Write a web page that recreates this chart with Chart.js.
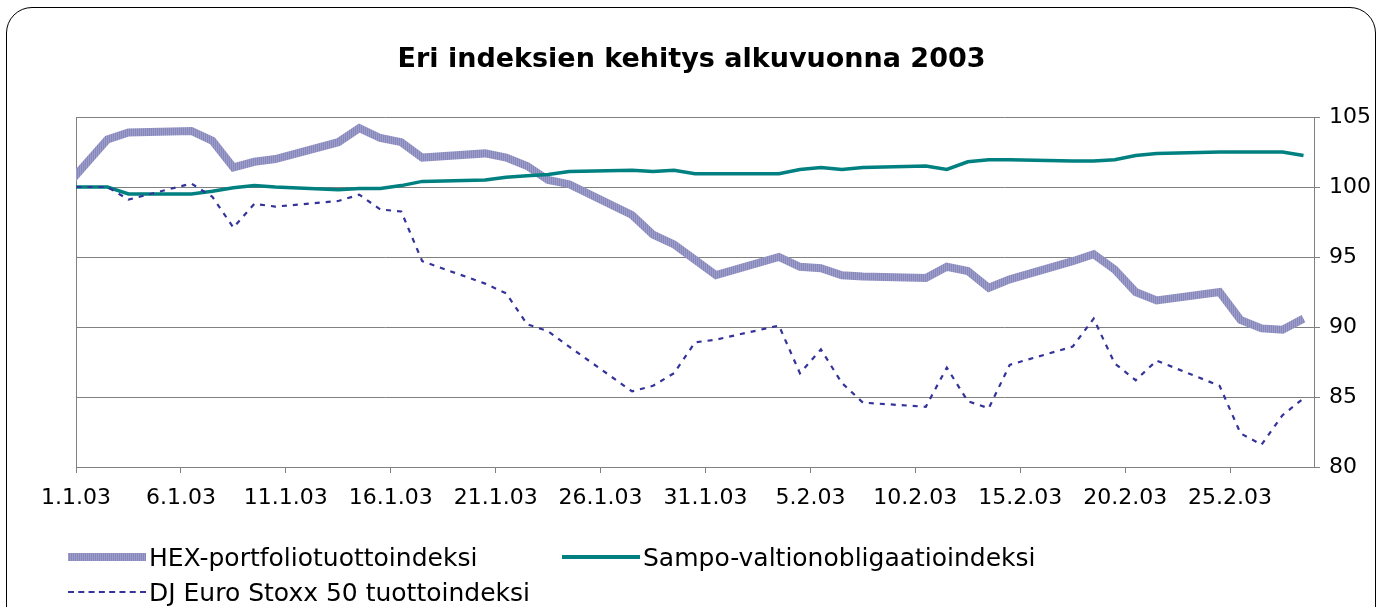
<!DOCTYPE html>
<html><head><meta charset="utf-8">
<script src="https://cdn.jsdelivr.net/npm/chart.js@4/dist/chart.umd.min.js"></script>
<style>
html,body{margin:0;padding:0;background:#fff;}
#wrap{position:relative;width:1383px;height:607px;overflow:hidden;background:#fff;}
#frame{position:absolute;left:6px;top:7px;width:1370px;height:630px;border:1px solid #000;border-radius:26px;box-sizing:border-box;}
canvas{position:absolute;left:0;top:0;}
.lt{position:absolute;font-family:'DejaVu Sans',Verdana,sans-serif;font-size:25px;line-height:25px;height:25px;color:#000;white-space:nowrap;}
.sw{position:absolute;width:78px;}
</style></head><body>
<div id="wrap"><div id="frame"></div><canvas id="c" width="1383" height="607"></canvas><div id="legend"></div></div>
<script>
// Trading dates (31.12.02 is the base day; the axis starts at 1.1.03)
const tradingDates = ['31.12.02','2.1.03','3.1.03','6.1.03','7.1.03','8.1.03','9.1.03','10.1.03',
  '13.1.03','14.1.03','15.1.03','16.1.03','17.1.03','20.1.03','21.1.03','22.1.03','23.1.03','24.1.03',
  '27.1.03','28.1.03','29.1.03','30.1.03','31.1.03','3.2.03','4.2.03','5.2.03','6.2.03','7.2.03',
  '10.2.03','11.2.03','12.2.03','13.2.03','14.2.03','17.2.03','18.2.03','19.2.03','20.2.03','21.2.03',
  '24.2.03','25.2.03','26.2.03','27.2.03','28.2.03'];
const hexValues = [100, 103.4, 103.9, 104.0, 103.3, 101.4, 101.8, 102.0,
  103.2, 104.2, 103.5, 103.2, 102.1, 102.4, 102.1, 101.5, 100.5, 100.2,
  98.0, 96.6, 95.9, 94.8, 93.7, 95.0, 94.3, 94.2, 93.7, 93.6,
  93.5, 94.3, 94.0, 92.8, 93.4, 94.7, 95.2, 94.1, 92.5, 91.9,
  92.5, 90.5, 89.9, 89.8, 90.6];
const sampoValues = [100, 100.0, 99.5, 99.5, 99.7, 99.95, 100.1, 100.0,
  99.8, 99.9, 99.9, 100.1, 100.4, 100.5, 100.7, 100.8, 100.9, 101.1,
  101.2, 101.1, 101.2, 100.95, 100.95, 100.95, 101.25, 101.4, 101.25, 101.4,
  101.5, 101.25, 101.8, 101.95, 101.95, 101.85, 101.85, 101.95, 102.25, 102.4,
  102.5, 102.5, 102.5, 102.5, 102.25];
const djValues = [100, 100.0, 99.1, 100.25, 99.3, 97.1, 98.8, 98.6,
  99.0, 99.45, 98.4, 98.25, 94.7, 93.1, 92.4, 90.2, 89.7, 88.6,
  85.4, 85.8, 86.7, 88.9, 89.1, 90.1, 86.7, 88.4, 86.0, 84.6,
  84.3, 87.1, 84.7, 84.2, 87.3, 88.6, 90.6, 87.4, 86.2, 87.6,
  85.8, 82.4, 81.6, 83.7, 84.9];
const tickLabels = ['1.1.03','6.1.03','11.1.03','16.1.03','21.1.03','26.1.03','31.1.03',
  '5.2.03','10.2.03','15.2.03','20.2.03','25.2.03'];
const seriesNames = ['HEX-portfoliotuottoindeksi','Sampo-valtionobligaatioindeksi','DJ Euro Stoxx 50 tuottoindeksi'];
const yTicks = [80, 85, 90, 95, 100, 105];
const titleText = 'Eri indeksien kehitys alkuvuonna 2003';

const FONT = "'DejaVu Sans', Verdana, sans-serif";
function dayIndex(s){ const p = s.split('.').map(Number); return Math.round((Date.UTC(2000+p[2], p[1]-1, p[0]) - Date.UTC(2003,0,1))/86400000); }
function toPoints(vals){ return tradingDates.map((d,i)=>({x: dayIndex(d), y: vals[i]})); }

// striped texture for the thick HEX line
const pc = document.createElement('canvas'); pc.width = 2; pc.height = 1;
const pctx = pc.getContext('2d');
pctx.fillStyle = '#9d9dcc'; pctx.fillRect(0,0,1,1);
pctx.fillStyle = '#8787ba'; pctx.fillRect(1,0,1,1);
const ctx = document.getElementById('c').getContext('2d');
const hexPattern = ctx.createPattern(pc, 'repeat');

new Chart(ctx, {
  type: 'line',
  data: {
    datasets: [
      {label: seriesNames[0], data: toPoints(hexValues), yAxisID: 'y', borderColor: hexPattern, borderWidth: 8, pointRadius: 0, tension: 0, order: 3},
      {label: seriesNames[1], data: toPoints(sampoValues), yAxisID: 'y', borderColor: '#008080', borderWidth: 3.5, pointRadius: 0, tension: 0, order: 2},
      {label: seriesNames[2], data: toPoints(djValues), yAxisID: 'y', borderColor: '#333399', borderWidth: 2.2, borderDash: [5,6], pointRadius: 0, tension: 0, order: 1}
    ]
  },
  options: {
    responsive: false, animation: false, devicePixelRatio: 1,
    layout: {padding: {left: 0, right: 0, top: 0, bottom: 100}},
    plugins: {
      legend: {display: false},
      tooltip: {enabled: false},
      title: {display: true, text: titleText, color: '#000', font: {family: FONT, size: 27, weight: 'bold'}, padding: {top: 44, bottom: 40.6}}
    },
    scales: {
      x: {
        type: 'linear', min: -0.5, max: 58.5,
        afterBuildTicks: s => { s.ticks = tickLabels.map((_,i)=>({value: -0.5 + 5*i})); },
        afterFit: s => { s.height = 40; },
        ticks: {autoSkip: false, maxRotation: 0, padding: 12, color: '#000', font: {family: FONT, size: 22},
          callback: (v, i) => tickLabels[i]},
        grid: {display: true, drawOnChartArea: false, drawTicks: true, tickLength: 6, color: '#808080'},
        border: {display: true, color: '#808080', width: 1}
      },
      y: {
        position: 'right', min: 80, max: 105,
        afterBuildTicks: s => { s.ticks = yTicks.map(v=>({value: v})); },
        afterFit: s => { s.width = 69; },
        ticks: {padding: 9, color: '#000', font: {family: FONT, size: 22}},
        grid: {color: '#808080', tickLength: 6, drawTicks: true},
        border: {display: true, color: '#808080', width: 1}
      },
      yl: {
        position: 'left', min: 80, max: 105,
        afterFit: s => { s.width = 76; },
        ticks: {display: false},
        grid: {display: false, drawTicks: false},
        border: {display: true, color: '#808080', width: 1}
      }
    }
  }
});

// legend (real text)
const legend = document.getElementById('legend');
const legendItems = [
  {name: seriesNames[0], x: 68, y: 557, style: 'height:8px;margin-top:-4px;background:repeating-linear-gradient(90deg,#9d9dcc 0 1px,#8787ba 1px 2px);'},
  {name: seriesNames[1], x: 562, y: 557, style: 'height:4px;margin-top:-2px;background:#008080;'},
  {name: seriesNames[2], x: 68, y: 592, style: 'height:0;margin-top:-1px;border-top:2px dashed #333399;'}
];
legendItems.forEach(it => {
  const sw = document.createElement('div'); sw.className = 'sw';
  sw.setAttribute('style', it.style + 'left:' + it.x + 'px;top:' + it.y + 'px;');
  legend.appendChild(sw);
  const t = document.createElement('div'); t.className = 'lt'; t.textContent = it.name;
  t.style.left = (it.x + 81) + 'px'; t.style.top = (it.y - 12) + 'px';
  legend.appendChild(t);
});
</script>
</body></html>
